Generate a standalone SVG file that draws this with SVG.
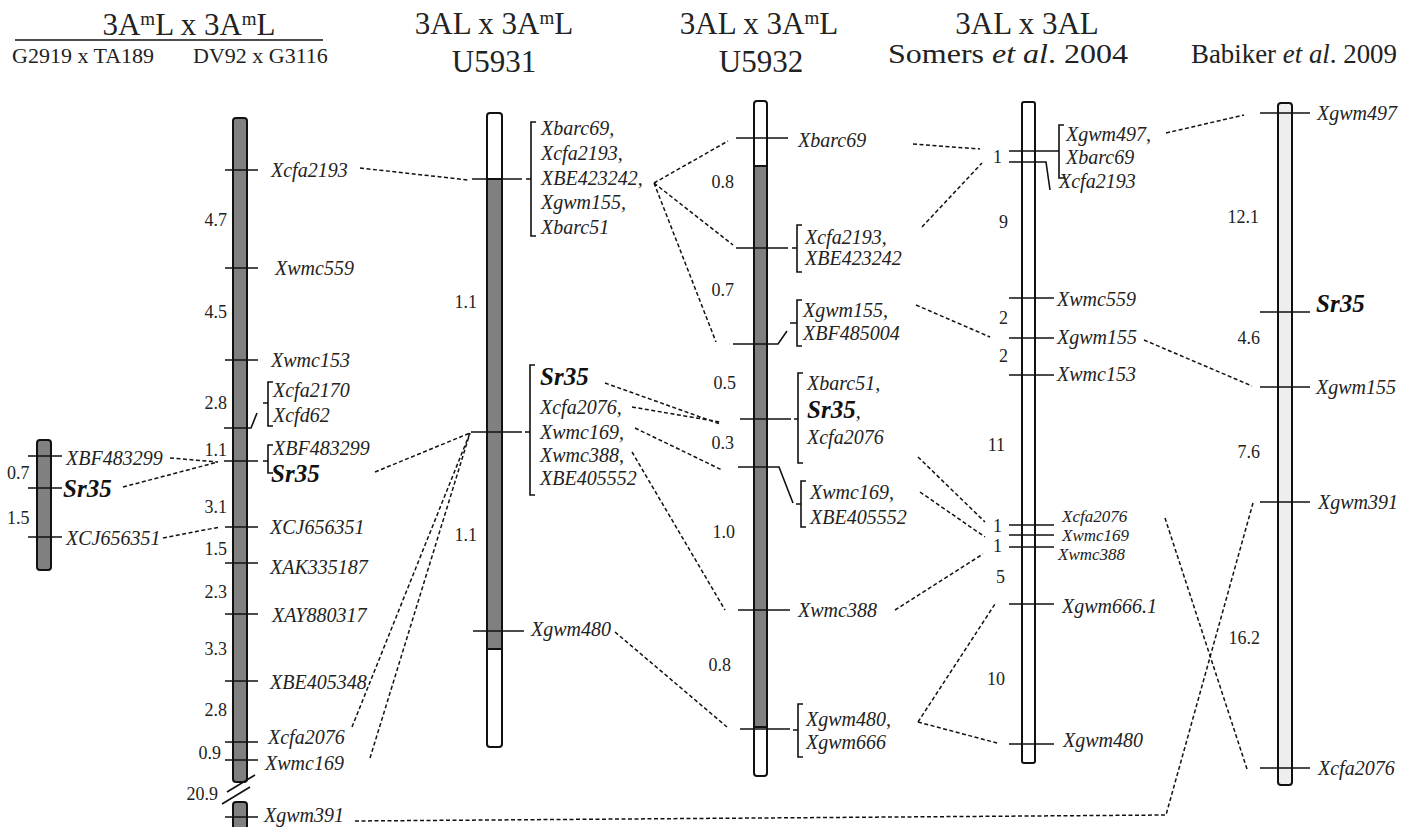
<svg xmlns="http://www.w3.org/2000/svg" width="1414" height="827" viewBox="0 0 1414 827">
<style>
.chr{stroke:#111;stroke-width:2}
.tk{stroke:#111;stroke-width:1.6;fill:none}
.dl{stroke:#111;stroke-width:1.5;stroke-dasharray:4 2.5;fill:none}
text{font-family:"Liberation Serif","Times New Roman",serif;fill:#222}
.lb{font-style:italic;font-size:20px}
.sm{font-size:17px}
.sr{font-style:italic;font-weight:bold;font-size:25px;fill:#111}
.nm{font-size:18px}
.ti{font-size:31px}
.st{font-size:22px}
</style>
<rect width="1414" height="827" fill="#fff"/>

<g id="titles">
<text class="ti" x="189" y="35" text-anchor="middle">3A<tspan font-size="19" dy="-10">m</tspan><tspan dy="10">L x 3A</tspan><tspan font-size="19" dy="-10">m</tspan><tspan dy="10">L</tspan></text>
<line x1="15" y1="40" x2="323" y2="40" stroke="#111" stroke-width="1.5"/>
<text class="st" x="12" y="63">G2919 x TA189</text>
<text class="st" x="193" y="63">DV92 x G3116</text>
<text class="ti" x="494" y="34" text-anchor="middle">3AL x 3A<tspan font-size="19" dy="-10">m</tspan><tspan dy="10">L</tspan></text>
<text class="ti" x="494" y="72" text-anchor="middle">U5931</text>
<text class="ti" x="759" y="34" text-anchor="middle">3AL x 3A<tspan font-size="19" dy="-10">m</tspan><tspan dy="10">L</tspan></text>
<text class="ti" x="761" y="72" text-anchor="middle">U5932</text>
<text class="ti" x="1027" y="34" text-anchor="middle">3AL x 3AL</text>
<text x="888" y="63" font-size="27" textLength="240" lengthAdjust="spacingAndGlyphs">Somers <tspan font-style="italic">et al</tspan>. 2004</text>
<text x="1191" y="63" font-size="27" textLength="206" lengthAdjust="spacingAndGlyphs">Babiker <tspan font-style="italic">et al</tspan>. 2009</text>
</g>

<g id="chr-small">
<rect class="chr" x="37" y="440" width="14" height="130" rx="3" fill="#808080"/>
<path class="tk" d="M28 456H62M28 488H62M28 537H62"/>
<text class="lb" x="66" y="465">XBF483299</text>
<text class="sr" x="63" y="497">Sr35</text>
<text class="lb" x="66" y="545">XCJ656351</text>
<text class="nm" x="7" y="479">0.7</text>
<text class="nm" x="7" y="524">1.5</text>
</g>

<g id="chr-main">
<rect class="chr" x="233" y="118" width="14" height="664" rx="3" fill="#808080"/>
<rect class="chr" x="233" y="802" width="14" height="40" rx="3" fill="#808080"/>
<path class="tk" d="M225 170H258M225 268H258M225 360H258M224 428H251L257 413M263 403H268M273 382H268V426H273M224 461H258M263 461H268M273 445H268V473H273M225 527H258M225 563H258M225 614H258M225 681H258M225 742H258M225 760H258M225 817H258"/>
<path class="tk" d="M227 792L255 775M222 804L250 787"/>
<text class="lb" x="271" y="177">Xcfa2193</text>
<text class="lb" x="275" y="275">Xwmc559</text>
<text class="lb" x="271" y="367">Xwmc153</text>
<text class="lb" x="273" y="397">Xcfa2170</text>
<text class="lb" x="273" y="422">Xcfd62</text>
<text class="lb" x="273" y="455">XBF483299</text>
<text class="sr" x="271" y="482">Sr35</text>
<text class="lb" x="270" y="534">XCJ656351</text>
<text class="lb" x="270" y="574">XAK335187</text>
<text class="lb" x="272" y="622">XAY880317</text>
<text class="lb" x="270" y="689">XBE405348</text>
<text class="lb" x="268" y="744">Xcfa2076</text>
<text class="lb" x="265" y="770">Xwmc169</text>
<text class="lb" x="264" y="822">Xgwm391</text>
<g text-anchor="end">
<text class="nm" x="227" y="226">4.7</text>
<text class="nm" x="227" y="318">4.5</text>
<text class="nm" x="227" y="409">2.8</text>
<text class="nm" x="227" y="456">1.1</text>
<text class="nm" x="227" y="513">3.1</text>
<text class="nm" x="227" y="555">1.5</text>
<text class="nm" x="227" y="598">2.3</text>
<text class="nm" x="227" y="655">3.3</text>
<text class="nm" x="227" y="716">2.8</text>
<text class="nm" x="221" y="759">0.9</text>
<text class="nm" x="218" y="800">20.9</text>
</g>
</g>

<g id="chr-U5931">
<rect x="487" y="113" width="15" height="634" rx="3" fill="#fff"/>
<rect class="chr" x="487" y="179" width="15" height="470" fill="#808080"/>
<rect class="chr" x="487" y="113" width="15" height="634" rx="3" fill="none"/>
<path class="tk" d="M472 179H522M526 179H531M536 122H531V236H536M471 432H522M525 432H530M535 365H530V495H535M473 631H524"/>
<text class="lb" x="541" y="135">Xbarc69,</text>
<text class="lb" x="541" y="160">Xcfa2193,</text>
<text class="lb" x="541" y="185">XBE423242,</text>
<text class="lb" x="541" y="209">Xgwm155,</text>
<text class="lb" x="541" y="234">Xbarc51</text>
<text class="sr" x="540" y="385">Sr35</text>
<text class="lb" x="540" y="414">Xcfa2076,</text>
<text class="lb" x="540" y="439">Xwmc169,</text>
<text class="lb" x="540" y="462">Xwmc388,</text>
<text class="lb" x="540" y="485">XBE405552</text>
<text class="lb" x="531" y="636">Xgwm480</text>
<text class="nm" x="477" y="308" text-anchor="end">1.1</text>
<text class="nm" x="477" y="541" text-anchor="end">1.1</text>
</g>

<g id="chr-U5932">
<rect x="754" y="101" width="13" height="675" rx="3" fill="#fff"/>
<rect class="chr" x="754" y="166" width="13" height="561" fill="#808080"/>
<rect class="chr" x="754" y="101" width="13" height="675" rx="3" fill="none"/>
<path class="tk" d="M736 138H788M736 248H788M792 248H797M802 225H797V272H802M733 344H778L787 331M790 323H797M802 300H797V346H802M740 419H791M794 419H798M803 373H798V463H803M738 467H779L793 503M796 504H801M806 481H801V527H806M738 610H790M740 729H790M793 730H798M803 704H798V757H803"/>
<text class="lb" x="798" y="147">Xbarc69</text>
<text class="lb" x="805" y="244">Xcfa2193,</text>
<text class="lb" x="805" y="265">XBE423242</text>
<text class="lb" x="803" y="317">Xgwm155,</text>
<text class="lb" x="803" y="340">XBF485004</text>
<text class="lb" x="807" y="390">Xbarc51,</text>
<text class="sr" x="807" y="418">Sr35<tspan class="lb" font-weight="normal">,</tspan></text>
<text class="lb" x="807" y="444">Xcfa2076</text>
<text class="lb" x="810" y="499">Xwmc169,</text>
<text class="lb" x="810" y="524">XBE405552</text>
<text class="lb" x="798" y="617">Xwmc388</text>
<text class="lb" x="806" y="726">Xgwm480,</text>
<text class="lb" x="806" y="749">Xgwm666</text>
<g text-anchor="end">
<text class="nm" x="734" y="188">0.8</text>
<text class="nm" x="734" y="296">0.7</text>
<text class="nm" x="736" y="389">0.5</text>
<text class="nm" x="734" y="449">0.3</text>
<text class="nm" x="735" y="538">1.0</text>
<text class="nm" x="731" y="671">0.8</text>
</g>
</g>

<g id="chr-Somers">
<rect class="chr" x="1022" y="102" width="13" height="661" rx="2" fill="#fff"/>
<path class="tk" d="M1009 151H1059M1064 125H1059V178H1064M1009 162H1046L1050 190M1009 298H1054M1009 338H1054M1009 375H1054M1009 525H1054M1009 535H1054M1009 547H1054M1009 604H1054M1009 744H1054"/>
<text class="lb" x="1066" y="141">Xgwm497,</text>
<text class="lb" x="1066" y="164">Xbarc69</text>
<text class="lb" x="1059" y="188">Xcfa2193</text>
<text class="lb" x="1057" y="306">Xwmc559</text>
<text class="lb" x="1057" y="344">Xgwm155</text>
<text class="lb" x="1057" y="381">Xwmc153</text>
<text class="lb sm" x="1062" y="522">Xcfa2076</text>
<text class="lb sm" x="1062" y="541">Xwmc169</text>
<text class="lb sm" x="1058" y="560">Xwmc388</text>
<text class="lb" x="1062" y="613">Xgwm666.1</text>
<text class="lb" x="1063" y="747">Xgwm480</text>
<g text-anchor="end">
<text class="nm" x="1002" y="163">1</text>
<text class="nm" x="1008" y="228">9</text>
<text class="nm" x="1008" y="324">2</text>
<text class="nm" x="1008" y="362">2</text>
<text class="nm" x="1005" y="451">11</text>
<text class="nm" x="1002" y="532">1</text>
<text class="nm" x="1002" y="552">1</text>
<text class="nm" x="1005" y="583">5</text>
<text class="nm" x="1005" y="685">10</text>
</g>
</g>

<g id="chr-Babiker">
<rect class="chr" x="1278" y="103" width="14" height="682" rx="3" fill="#eeeeee"/>
<path class="tk" d="M1260 113H1310M1260 312H1310M1260 387H1310M1260 502H1310M1260 768H1310"/>
<text class="lb" x="1317" y="120">Xgwm497</text>
<text class="sr" x="1316" y="312">Sr35</text>
<text class="lb" x="1316" y="394">Xgwm155</text>
<text class="lb" x="1318" y="509">Xgwm391</text>
<text class="lb" x="1318" y="775">Xcfa2076</text>
<g text-anchor="end">
<text class="nm" x="1259" y="223">12.1</text>
<text class="nm" x="1260" y="344">4.6</text>
<text class="nm" x="1260" y="458">7.6</text>
<text class="nm" x="1260" y="644">16.2</text>
</g>
</g>

<g id="connectors" class="dl">
<path d="M170 458L218 462M123 487L218 462M163 538L220 527"/>
<path d="M360 168L468 180M375 472L470 433M352 727L470 433M370 758L470 433"/>
<path d="M654 183L728 141M654 183L733 245M654 183L716 342"/>
<path d="M605 383L720 424M632 407L720 422M635 428L722 470M632 452L725 610M615 632L727 727"/>
<path d="M913 144L980 149M922 227L982 163M916 305L990 337M918 457L985 522M920 492L985 537M895 610L983 554M918 722L995 604M918 722L997 743"/>
<path d="M1166 133L1244 115M1144 340L1252 386M1165 518L1247 769"/>
<path d="M355 821L1166 815L1253 503"/>
</g>
</svg>
